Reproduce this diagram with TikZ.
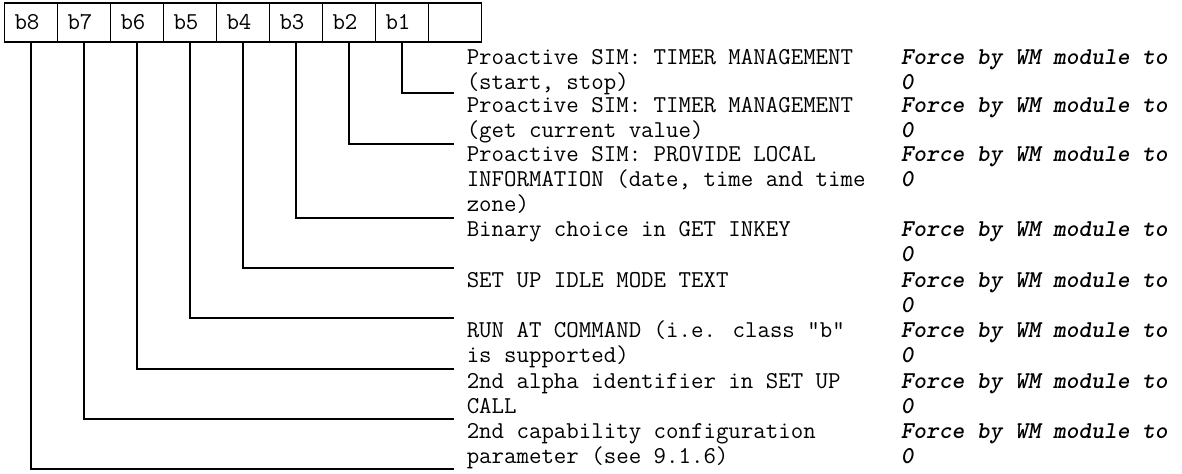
\documentclass[tikz,border=0pt]{standalone}
\usepackage{fontspec}
\usetikzlibrary{positioning}
\begin{document}
\begin{tikzpicture}[x=0.5pt, y=-0.5pt, line width=0.75pt,
  bit/.style={draw, outer sep=0pt, inner xsep=5pt, text width=16.5pt, minimum height=19.5pt, font=\ttfamily\fontsize{12.1}{12.5}\selectfont},
  desc/.style={anchor=base west, align=left, inner sep=0pt, font=\ttfamily\fontsize{12.1}{12.5}\selectfont},
  force/.style={anchor=base west, align=left, inner sep=0pt, font=\ttfamily\bfseries\slshape\fontsize{12.1}{12.5}\selectfont}]
        \useasboundingbox (0,0) rectangle (1182,473);
        \node[bit] (b8) at (31,22.5) {b8};
        \node[bit, right=0pt of b8] (b7) {b7};
        \node[bit, right=0pt of b7] (b6) {b6};
        \node[bit, right=0pt of b6] (b5) {b5};
        \node[bit, right=0pt of b5] (b4) {b4};
        \node[bit, right=0pt of b4] (b3) {b3};
        \node[bit, right=0pt of b3] (b2) {b2};
        \node[bit, right=0pt of b2] (b1) {b1};
        \node[bit, right=0pt of b1] (spare) {};
        \coordinate (e1) at (454,93);
        \coordinate (e2) at (454,144);
        \coordinate (e3) at (454,218);
        \coordinate (e4) at (454,268);
        \coordinate (e5) at (454,318);
        \coordinate (e6) at (454,369);
        \coordinate (e7) at (454,419);
        \coordinate (e8) at (454,469);
        \draw (b1.south) |- (e1);
        \draw (b2.south) |- (e2);
        \draw (b3.south) |- (e3);
        \draw (b4.south) |- (e4);
        \draw (b5.south) |- (e5);
        \draw (b6.south) |- (e6);
        \draw (b7.south) |- (e7);
        \draw (b8.south) |- (e8);
        \node[desc] (d1) at (466,89) {Proactive SIM: TIMER MANAGEMENT\\(start, stop)};
        \node[desc] (d2) at (466,137) {Proactive SIM: TIMER MANAGEMENT\\(get current value)};
        \node[desc] (d3) at (466,211) {Proactive SIM: PROVIDE LOCAL\\INFORMATION (date, time and time\\zone)};
        \node[desc] (d4) at (466,236) {Binary choice in GET INKEY};
        \node[desc] (d5) at (466,287) {SET UP IDLE MODE TEXT};
        \node[desc] (d6) at (466,362) {RUN AT COMMAND (i.e. class "b"\\is supported)};
        \node[desc] (d7) at (466,413) {2nd alpha identifier in SET UP\\CALL};
        \node[desc] (d8) at (466,463) {2nd capability configuration\\parameter (see 9.1.6)};
        \node[force] (f1) at (900,89) {Force by WM module to\\0};
        \node[force] (f2) at (900,137) {Force by WM module to\\0};
        \node[force] (f3) at (900,186) {Force by WM module to\\0};
        \node[force] (f4) at (900,261) {Force by WM module to\\0};
        \node[force] (f5) at (900,312) {Force by WM module to\\0};
        \node[force] (f6) at (900,362) {Force by WM module to\\0};
        \node[force] (f7) at (900,413) {Force by WM module to\\0};
        \node[force] (f8) at (900,463) {Force by WM module to\\0};
\end{tikzpicture}
\end{document}
